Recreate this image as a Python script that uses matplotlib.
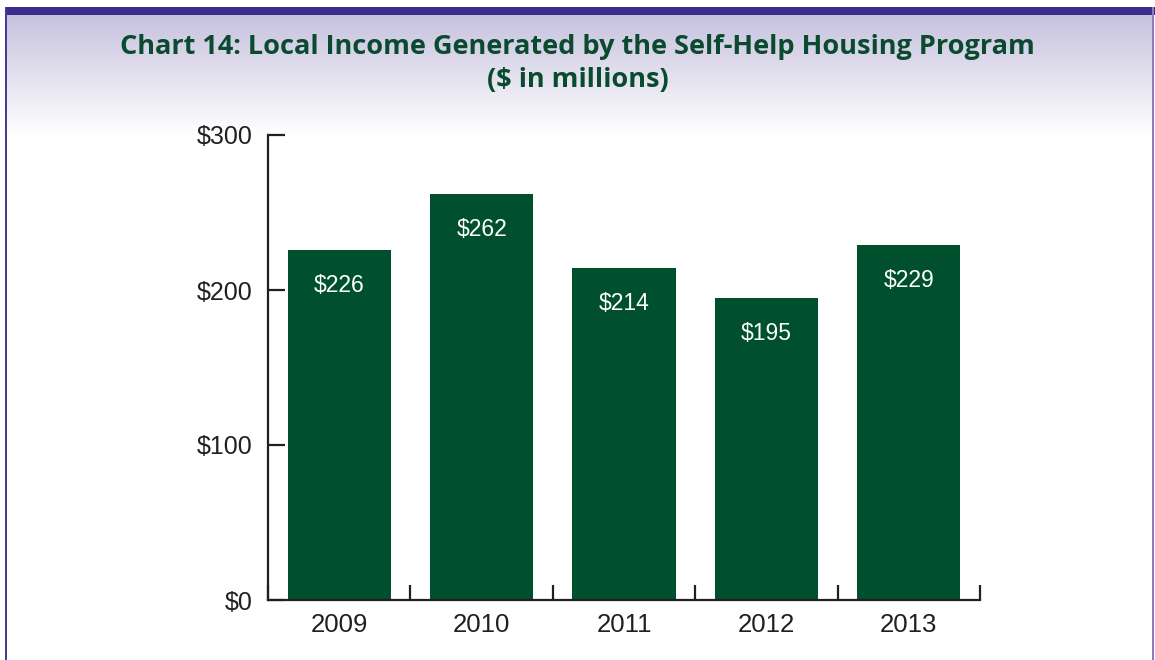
import numpy as np
import matplotlib
matplotlib.use("Agg")
import matplotlib.pyplot as plt
from matplotlib.patches import Rectangle

years = ["2009", "2010", "2011", "2012", "2013"]
income = [226, 262, 214, 195, 229]
yticks = [0, 100, 200, 300]
ytick_labels = ["$0", "$100", "$200", "$300"]

TITLE = "Chart 14: Local Income Generated by the Self-Help Housing Program\n($ in millions)"
GREEN = "#00502d"
TITLE_GREEN = "#0a4a2e"
PURPLE = "#3e2c8c"

W, H = 1155, 660
fig = plt.figure(figsize=(W / 100, H / 100), dpi=100)

# background panel: lavender gradient + purple frame
bg = fig.add_axes([0, 0, 1, 1], zorder=0)
bg.set_xlim(0, W)
bg.set_ylim(H, 0)
bg.axis("off")
top, fade = 15, 135
grad = np.linspace(0, 1, 200)[:, None]
c0 = np.array([0.78, 0.76, 0.87])
c1 = np.array([1.0, 1.0, 1.0])
img = c0[None, None, :] * (1 - grad[..., None]) + c1[None, None, :] * grad[..., None]
bg.imshow(img, extent=[6, 1153, fade, top], aspect="auto", zorder=0)
bg.add_patch(Rectangle((5, 7), 1150, 8, color=PURPLE, zorder=2, lw=0))
bg.add_patch(Rectangle((5, 7), 2.2, H, color="#4a3a98", zorder=2, lw=0))
bg.add_patch(Rectangle((1151.5, 7), 2, H, color="#8a7cc0", zorder=2, lw=0))

fig.text(0.5, 1 - 63.5 / H, TITLE, ha="center", va="center", fontsize=19.5,
         fontweight="bold", color=TITLE_GREEN, family="Open Sans", linespacing=1.32)

ax = fig.add_axes([268 / W, 1 - 600 / H, (980 - 268) / W, (600 - 135) / H], zorder=1)
ax.patch.set_alpha(0)
x = np.arange(len(years))
bars = ax.bar(x, income, width=0.725, color=GREEN, zorder=2)
for xi, v in zip(x, income):
    ax.annotate(f"${v}", (xi, v), xytext=(0, -25.5), textcoords="offset points",
                ha="center", va="center", color="white", fontsize=16.5,
                family="Liberation Sans")

ax.set_xlim(-0.5, 4.5)
ax.set_ylim(0, 300)
ax.set_yticks(yticks)
ax.set_yticklabels(ytick_labels)
ax.set_xticks(x)
ax.set_xticklabels(years)
ax.set_xticks(np.arange(-0.5, 5, 1), minor=True)
ax.tick_params(axis="x", which="major", length=0, pad=9, labelsize=18.5, labelcolor="#231f20")
ax.tick_params(axis="x", which="minor", direction="in", length=11, width=1.6, color="#231f20")
ax.tick_params(axis="y", direction="in", length=12, width=1.6, pad=11, labelsize=18,
               labelcolor="#231f20", color="#231f20")
for lab in ax.get_xticklabels() + ax.get_yticklabels():
    lab.set_family("Liberation Sans")
for s in ["top", "right"]:
    ax.spines[s].set_visible(False)
for s in ["left", "bottom"]:
    ax.spines[s].set_linewidth(1.6)
    ax.spines[s].set_color("#231f20")

fig.savefig("out.png", dpi=100)
